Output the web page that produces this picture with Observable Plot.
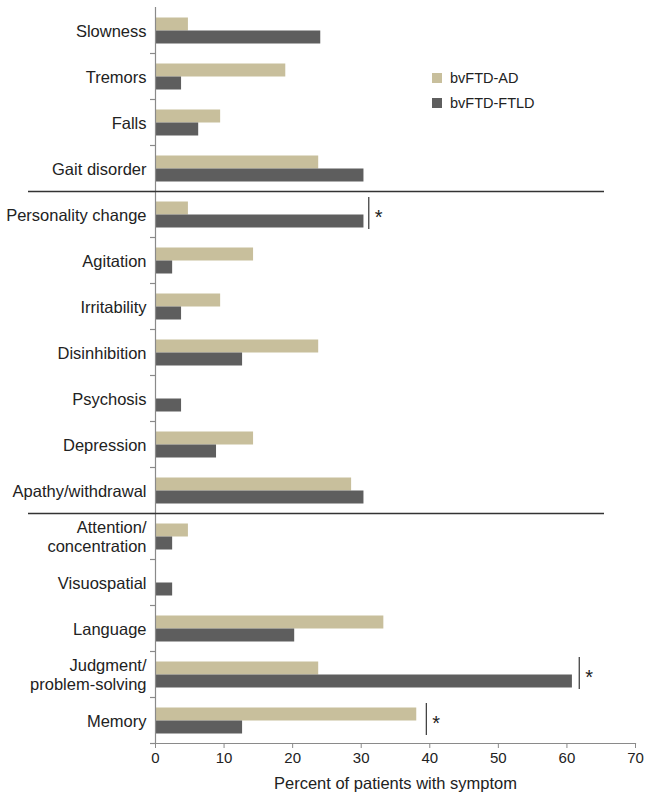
<!DOCTYPE html>
<html>
<head>
<meta charset="utf-8">
<script src="https://cdn.jsdelivr.net/npm/d3@7"></script>
<script src="https://cdn.jsdelivr.net/npm/@observablehq/plot@0.6"></script>
<style>
  html, body { margin: 0; padding: 0; background: #fff; }
  #wrap { position: relative; width: 649px; height: 801px; font-family: "Liberation Sans", Arial, sans-serif; }
  .legend { position: absolute; left: 432px; font-size: 14.5px; color: #222; }
  .legend .row { position: absolute; left: 0; white-space: nowrap; height: 16px; line-height: 16px; }
  .legend .sw { position: absolute; left: 0; top: 3px; width: 10px; height: 10px; }
  .legend .lb { position: absolute; left: 18px; top: 0; }
</style>
</head>
<body>
<div id="wrap"></div>
<script>
const categories = ["Slowness","Tremors","Falls","Gait disorder","Personality change","Agitation","Irritability","Disinhibition","Psychosis","Depression","Apathy/withdrawal","Attention/concentration","Visuospatial","Language","Judgment/problem-solving","Memory"];
const labels = ["Slowness","Tremors","Falls","Gait disorder","Personality change","Agitation","Irritability","Disinhibition","Psychosis","Depression","Apathy/withdrawal","Attention/\nconcentration","Visuospatial","Language","Judgment/\nproblem-solving","Memory"];
const seriesNames = ["bvFTD-AD","bvFTD-FTLD"];
const adValues = [4.8,19.0,9.5,23.8,4.8,14.3,9.5,23.8,0,14.3,28.6,4.8,0,33.3,23.8,38.1];
const ftldValues = [24.1,3.8,6.3,30.4,30.4,2.5,3.8,12.7,3.8,8.9,30.4,2.5,2.5,20.3,60.8,12.7];
const sigCategories = ["Personality change","Judgment/problem-solving","Memory"];
const sigX = [31.1,61.8,39.5];
const groupEnds = ["Gait disorder","Apathy/withdrawal"];
const xTicks = [0,10,20,30,40,50,60,70];
const xLabel = "Percent of patients with symptom";
const colors = ["#c8bf9c","#5e5e5e"];

const labelOf = new Map(categories.map((c,i)=>[c,labels[i]]));
const adData = categories.map((c,i)=>({cat:c, v:adValues[i]}));
const ftldData = categories.map((c,i)=>({cat:c, v:ftldValues[i]}));
const sigData = sigCategories.map((c,i)=>({cat:c, x:sigX[i]}));

const band = 46;
const chart = Plot.plot({
  width: 649,
  height: 801,
  marginLeft: 155,
  marginRight: 14,
  marginTop: 7,
  marginBottom: 58,
  style: {fontFamily: '"Liberation Sans", Arial, sans-serif', color: "#222", background: "#fff"},
  x: {domain: [0,70], axis: null},
  y: {domain: categories, paddingInner: 0, paddingOuter: 0, axis: null},
  marks: [
    Plot.barX(adData, {x: "v", y: "cat", fill: colors[0], insetTop: 10.5, insetBottom: 22.5}),
    Plot.barX(ftldData, {x: "v", y: "cat", fill: colors[1], insetTop: 23.5, insetBottom: 9.5}),
    Plot.ruleX([0], {stroke: "#8a8a8a", strokeWidth: 1.2}),
    Plot.frame({anchor: "bottom", stroke: "#8a8a8a", strokeWidth: 1.2}),
    Plot.axisX({ticks: xTicks, tickSize: 5, tickPadding: 4, fontSize: 15, stroke: "#8a8a8a", label: null, tickFormat: d => d}),
    Plot.axisY({tickSize: 5, dy: band/2, tickFormat: () => "", stroke: "#8a8a8a", strokeWidth: 1.2, label: null}),
    Plot.ruleY(groupEnds, {y: d => d, dy: band/2, x1: 0, x2: 70, insetLeft: -127, insetRight: 31, stroke: "#333", strokeWidth: 1.3}),
    Plot.text(categories, {y: d => d, text: d => labelOf.get(d), frameAnchor: "left", textAnchor: "end", dx: -9, fontSize: 16.5, lineHeight: 1.17, fill: "#222"}),
    Plot.tickX(sigData, {x: "x", y: "cat", insetTop: 6, insetBottom: 8, stroke: "#444", strokeWidth: 1.3}),
    Plot.text(sigData, {x: "x", y: "cat", text: () => "*", textAnchor: "start", dx: 6, dy: 3, fontSize: 20, fill: "#222"}),
    Plot.text([xLabel], {text: d => d, frameAnchor: "bottom", dy: 45, fontSize: 16.5, fill: "#222"})
  ]
});

const wrap = document.getElementById("wrap");
wrap.appendChild(chart);
const legend = document.createElement("div");
legend.className = "legend";
legend.style.top = "70px";
seriesNames.forEach((name, i) => {
  const row = document.createElement("div");
  row.className = "row";
  row.style.top = (i * 25) + "px";
  const sw = document.createElement("span");
  sw.className = "sw";
  sw.style.background = colors[i];
  const lb = document.createElement("span");
  lb.className = "lb";
  lb.textContent = name;
  row.appendChild(sw); row.appendChild(lb);
  legend.appendChild(row);
});
wrap.appendChild(legend);
</script>
</body>
</html>
